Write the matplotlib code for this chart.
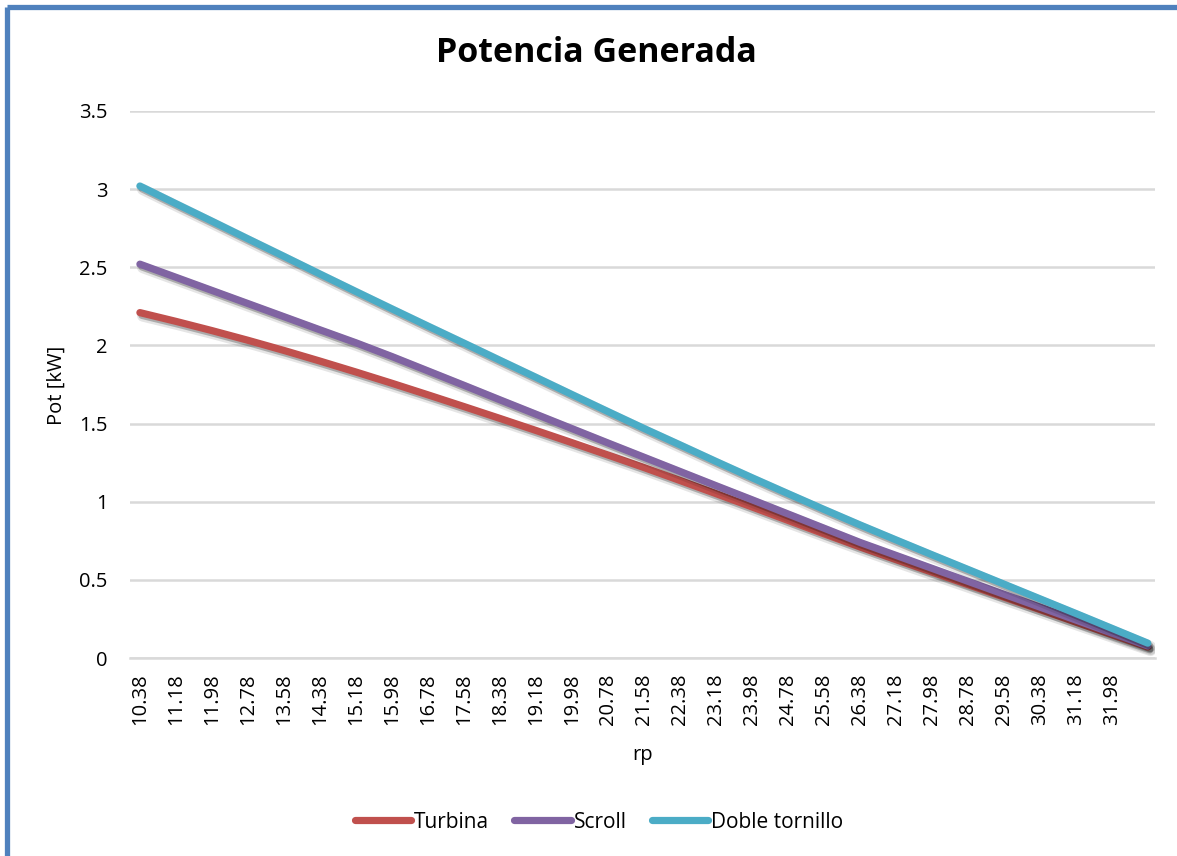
import numpy as np
import matplotlib
matplotlib.use("Agg")
import matplotlib.pyplot as plt
import matplotlib.patheffects as pe
from matplotlib.lines import Line2D

plt.rcParams['font.family'] = ['Open Sans', 'DejaVu Sans']

# pressure ratio (category axis)
rp = [10.38, 11.18, 11.98, 12.78, 13.58, 14.38, 15.18, 15.98, 16.78, 17.58,
      18.38, 19.18, 19.98, 20.78, 21.58, 22.38, 23.18, 23.98, 24.78, 25.58,
      26.38, 27.18, 27.98, 28.78, 29.58, 30.38, 31.18, 31.98, 32.78]

# generated power [kW]
turbina = [2.210, 2.154, 2.095, 2.033, 1.968, 1.900, 1.830, 1.758, 1.684, 1.609,
           1.533, 1.456, 1.378, 1.299, 1.219, 1.136, 1.052, 0.967, 0.881, 0.795,
           0.711, 0.630, 0.550, 0.470, 0.390, 0.310, 0.230, 0.150, 0.070]
scroll = [2.520, 2.436, 2.352, 2.268, 2.184, 2.100, 2.017, 1.929, 1.837, 1.745,
          1.652, 1.560, 1.468, 1.376, 1.285, 1.194, 1.103, 1.013, 0.922, 0.831,
          0.740, 0.657, 0.574, 0.491, 0.408, 0.326, 0.243, 0.160, 0.077]
doble_tornillo = [3.020, 2.907, 2.795, 2.682, 2.570, 2.457, 2.345, 2.234, 2.124, 2.015,
                  1.905, 1.796, 1.686, 1.577, 1.469, 1.364, 1.258, 1.154, 1.052, 0.951,
                  0.852, 0.756, 0.661, 0.567, 0.473, 0.379, 0.285, 0.190, 0.095]

series = [("Turbina", turbina, "#C0504D"),
          ("Scroll", scroll, "#8064A2"),
          ("Doble tornillo", doble_tornillo, "#4BACC6")]

W, H = 1177, 856
fig = plt.figure(figsize=(W / 100, H / 100), dpi=100)
ax = fig.add_axes([130 / W, 1 - 658 / H, (1155 - 130) / W, (658 - 111) / H])

shadow = [pe.SimpleLineShadow(offset=(2, -2.5), shadow_color="k", alpha=0.10, linewidth=8),
          pe.SimpleLineShadow(offset=(1.5, -2), shadow_color="k", alpha=0.25),
          pe.Normal()]

for name, vals, color in series:
    ax.plot(rp, vals, color=color, lw=5.2, solid_capstyle="round",
            solid_joinstyle="round", label=name, path_effects=shadow)

ax.set_xlim(10.16, 32.94)
ax.set_ylim(0, 3.5)
ax.set_yticks(np.arange(0, 3.51, 0.5))
ax.set_yticklabels(["0", "0.5", "1", "1.5", "2", "2.5", "3", "3.5"])
ax.set_xticks(rp[:-1])
ax.set_xticklabels([f"{v:.2f}" for v in rp[:-1]], rotation=90)
ax.tick_params(axis="both", length=0, labelsize=14.5, colors="black")
ax.tick_params(axis="y", pad=16)
ax.tick_params(axis="x", pad=11)

ax.grid(axis="y", color="#D9D9D9", lw=1.8)
ax.set_axisbelow(True)
for side in ["top", "right", "left"]:
    ax.spines[side].set_visible(False)
ax.spines["bottom"].set_color("#D9D9D9")
ax.spines["bottom"].set_linewidth(1.8)

fig.text(596 / W, 1 - 53 / H, "Potencia Generada", ha="center", va="center",
         fontsize=24.5, fontweight="bold")
fig.text(643 / W, 1 - 755 / H, "rp", ha="center", va="center", fontsize=14.5)
fig.text(57 / W, 1 - 385 / H, "Pot [kW]", ha="center", va="center",
         rotation=90, fontsize=14.5)

leg = fig.legend(loc="center", bbox_to_anchor=(599 / W, 1 - 822 / H), ncol=3,
                 frameon=False, fontsize=15, handlelength=2.7,
                 handletextpad=0.15, columnspacing=1.2)
for h in leg.get_lines():
    h.set_path_effects([pe.Normal()])
    h.set_linewidth(5.2)

# chart border (left and top edges)
fig.add_artist(Line2D([6.5 / W, 6.5 / W], [0, 1 - 6.5 / H], color="#4F81BD", lw=3.8,
                      transform=fig.transFigure, solid_capstyle="butt"))
fig.add_artist(Line2D([6.5 / W, 1], [1 - 6.5 / H, 1 - 6.5 / H], color="#4F81BD", lw=3.8,
                      transform=fig.transFigure, solid_capstyle="butt"))

fig.savefig("out.png", dpi=100)
